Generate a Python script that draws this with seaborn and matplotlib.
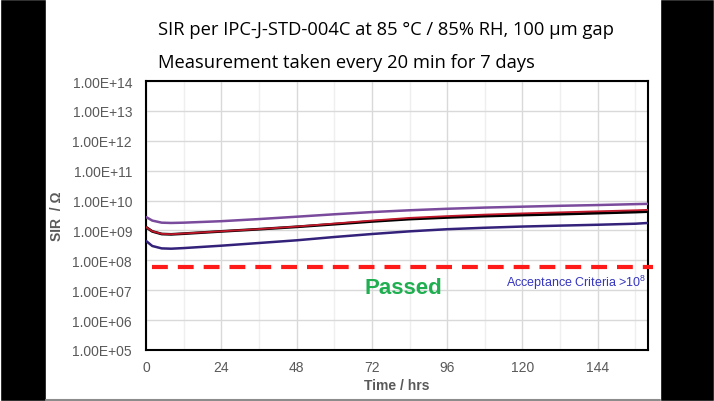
import numpy as np
import pandas as pd
import matplotlib
matplotlib.use("Agg")
import matplotlib.pyplot as plt
import matplotlib.ticker as mticker
from matplotlib.patches import Rectangle
from matplotlib.lines import Line2D
import seaborn as sns

# Data (SIR in ohm vs time in hours)
hours = [0, 2, 5, 8, 12, 24, 36, 48, 60, 72, 84, 96, 108, 120, 132, 144, 156, 160]
sir_purple = [2.82e9, 2.14e9, 1.82e9, 1.78e9, 1.82e9, 2.04e9, 2.40e9, 2.88e9, 3.47e9,
              4.12e9, 4.73e9, 5.31e9, 5.82e9, 6.24e9, 6.68e9, 7.08e9, 7.59e9, 7.76e9]
sir_black = [1.29e9, 9.3e8, 7.6e8, 7.4e8, 7.8e8, 9.3e8, 1.10e9, 1.32e9, 1.62e9,
             2.00e9, 2.40e9, 2.72e9, 3.02e9, 3.27e9, 3.51e9, 3.80e9, 4.12e9, 4.27e9]
sir_red = [1.29e9, 9.4e8, 7.7e8, 7.5e8, 7.9e8, 9.4e8, 1.11e9, 1.35e9, 1.70e9,
           2.14e9, 2.63e9, 3.02e9, 3.39e9, 3.72e9, 4.03e9, 4.37e9, 4.73e9, 4.90e9]
sir_navy = [4.47e8, 3.02e8, 2.51e8, 2.45e8, 2.57e8, 3.09e8, 3.80e8, 4.68e8, 6.03e8,
            7.59e8, 9.33e8, 1.10e9, 1.23e9, 1.35e9, 1.45e9, 1.55e9, 1.68e9, 1.78e9]
acceptance_line = 6.0e7
x_ticks = [0, 24, 48, 72, 96, 120, 144]
title_lines = ["SIR per IPC-J-STD-004C at 85 \u00b0C / 85% RH, 100 \u00b5m gap",
               "Measurement taken every 20 min for 7 days"]

sns.set_style("white")
plt.rcParams["font.family"] = ["Liberation Sans", "DejaVu Sans"]
plt.rcParams["mathtext.fontset"] = "custom"
plt.rcParams["mathtext.rm"] = "Liberation Sans"

fig = plt.figure(figsize=(7.14, 4.02), dpi=100)
ax = fig.add_axes([146 / 714, 51 / 402, 502 / 714, 269 / 402])

# black side bars + bottom rule of the slide
fig.patches.append(Rectangle((0, 0), 46 / 714, 1, transform=fig.transFigure,
                             facecolor="black", zorder=0))
fig.patches.append(Rectangle((660 / 714, 0), 54 / 714, 1, transform=fig.transFigure,
                             facecolor="black", zorder=0))
fig.lines.append(Line2D([46 / 714, 660 / 714], [1.5 / 402, 1.5 / 402],
                        transform=fig.transFigure, color="#8c8c8c", lw=1.5))

series = [("navy", sir_navy, "#33217a", 1.8),
          ("purple", sir_purple, "#7a4a9c", 1.8),
          ("black", sir_black, "#000000", 2.0),
          ("red", sir_red, "#c0182a", 1.3)]
for name, vals, col, lw in series:
    df = pd.DataFrame({"hours": hours, "sir": vals})
    sns.lineplot(data=df, x="hours", y="sir", ax=ax, color=col, lw=lw, zorder=3)

ax.axhline(acceptance_line, xmin=0.012, xmax=1.01, color="#ff1a1a", lw=3.0,
           dashes=(3.8, 2.4), clip_on=False, zorder=4)

ax.set_yscale("log")
ax.set_ylim(1e5, 1e14)
ax.set_xlim(0, 160)
ax.yaxis.set_major_locator(mticker.LogLocator(base=10, numticks=20))
ax.yaxis.set_minor_locator(mticker.NullLocator())
ax.yaxis.set_major_formatter(mticker.FuncFormatter(lambda v, p: f"{v:.2E}"))
ax.set_xticks(x_ticks)
ax.xaxis.set_minor_locator(mticker.MultipleLocator(12))

ax.grid(True, which="major", color="#d9d9d9", lw=1.0, zorder=0)
ax.grid(True, which="minor", axis="x", color="#efefef", lw=1.0, zorder=0)
ax.set_axisbelow(True)
for s in ax.spines.values():
    s.set_color("black")
    s.set_linewidth(1.5)

ax.tick_params(axis="both", which="both", length=0, labelsize=10, labelcolor="#595959")
ax.tick_params(axis="y", pad=10)
ax.tick_params(axis="x", pad=7)
ax.set_xlabel("Time / hrs", fontsize=10, fontweight="bold", color="#595959", labelpad=3)
ax.set_ylabel("SIR  / \u03a9", fontsize=10, fontweight="bold", color="#595959", labelpad=6)

ax.text(82, 1.25e7, "Passed", color="#1fae50", fontsize=16, fontweight="bold",
        ha="center", va="center")
ax.text(159.5, 1.95e7, r"Acceptance Criteria >10$^8$", color="#3535c0", fontsize=9,
        ha="right", va="center")

for i, line in enumerate(title_lines):
    fig.text(158 / 714, 1 - (30 + 33 * i) / 402, line, fontsize=13.2,
             family=["Open Sans", "DejaVu Sans"], color="black", ha="left", va="center")

fig.savefig("out.png", dpi=100)
